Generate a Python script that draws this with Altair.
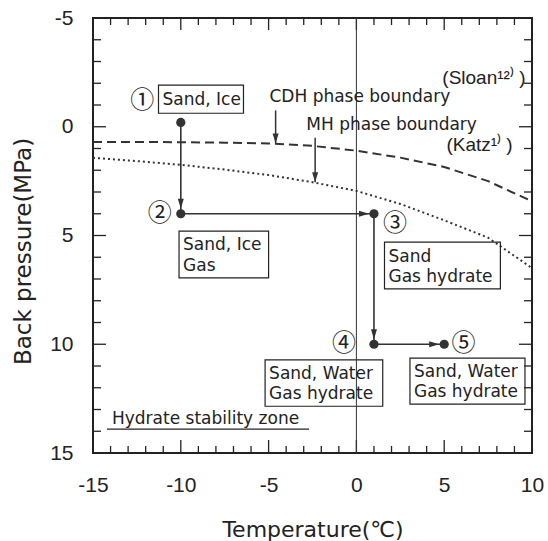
import altair as alt
import pandas as pd

# ---- phase boundary curves: temperature (°C) vs back pressure (MPa) ----
curve_temp = [-15, -12.5, -10, -7.5, -5, -2.5, 0, 2.5, 5, 7.5, 10]
cdh_pres = [0.70, 0.70, 0.71, 0.73, 0.77, 0.88, 1.10, 1.42, 1.85, 2.50, 3.43]
mh_pres = [1.43, 1.58, 1.75, 1.97, 2.22, 2.55, 2.95, 3.55, 4.30, 5.10, 6.50]

# ---- experimental path, states 1 to 5 ----
state_no = ["①", "②", "③", "④", "⑤"]
state_temp = [-10, -10, 1, 1, 5]
state_pres = [-0.2, 4, 4, 10, 10]
state_no_temp = [-12.2, -11.2, 2.2, -0.7, 6.1]
state_no_pres = [-1.2, 4.0, 4.45, 10.0, 10.0]

# arrow heads along the path (end of each step)
head_temp = [-10, 1, 1, 5]
head_pres = [4, 4, 10, 10]
head_dir = ["down", "right", "down", "right"]

# ---- content boxes for each state ----
box_left = [-11.27, -10.1, 1.6, -5.2, 3.05]
box_right = [-6.43, -5.0, 8.2, 1.5, 9.6]
box_top = [-1.91, 4.8, 5.3, 10.72, 10.64]
box_bottom = [-0.62, 6.95, 7.45, 12.85, 12.75]
box_text = ["Sand, Ice", "Sand, Ice", "Gas", "Sand", "Gas hydrate",
            "Sand, Water", "Gas hydrate", "Sand, Water", "Gas hydrate"]
box_text_temp = [-11.27, -10.1, -10.1, 1.6, 1.6, -5.2, -5.2, 3.05, 3.05]
box_text_pres = [-1.22, 5.45, 6.4, 5.97, 6.9, 11.35, 12.3, 11.27, 12.2]

# ---- curve annotations ----
note_text = ["CDH phase boundary", "MH phase boundary", "Hydrate stability zone"]
note_temp = [-4.95, -2.85, -13.92]
note_pres = [-1.35, -0.1, 13.43]
ref_text = ["(Sloan¹²⁾ )", "(Katz¹⁾ )"]
ref_temp = [9.63, 8.9]
ref_pres = [-2.25, 0.83]
pointer_temp = [-4.6, -2.35]
pointer_top = [-0.75, 0.5]
pointer_tip = [0.77, 2.55]
underline_temp = [-14.2, -2.7]
underline_pres = 13.9

# ---- axis ticks ----
x_labels = [-15, -10, -5, 0, 5, 10]
y_labels = [-5, 0, 5, 10, 15]
x_minor = [v for v in range(-14, 10) if v % 5 != 0]
x_major = [-10, -5, 0, 5]
y_minor = [v for v in range(-4, 15) if v % 5 != 0]
y_major = [0, 5, 10]

W, H = 439, 435
INK = "#222222"
TXT_FONT = "DejaVu Sans"
NUM_FONT = "Liberation Sans"

xs = alt.Scale(domain=[-15, 10], nice=False, zero=False)
ys = alt.Scale(domain=[-5, 15], nice=False, zero=False, reverse=True)

AX_X = alt.Axis(
    values=x_labels, ticks=False, tickSize=0, domain=False, grid=False,
    labelExpr="'' + datum.value", labelFlush=False, labelOverlap=False,
    labelFont=NUM_FONT, labelFontSize=21, labelColor=INK, labelPadding=21,
    title="Temperature(℃)", titleFont=TXT_FONT, titleFontSize=22,
    titleFontWeight="normal", titleColor=INK, titlePadding=24,
)
AX_Y = alt.Axis(
    values=y_labels, ticks=False, tickSize=0, domain=False, grid=False,
    labelExpr="'' + datum.value", labelFlush=False, labelOverlap=False,
    labelFont=NUM_FONT, labelFontSize=21, labelColor=INK, labelPadding=20,
    title="Back pressure(MPa)", titleFont=TXT_FONT, titleFontSize=23,
    titleFontWeight="normal", titleColor=INK, titleX=-70, titleY=233,
    titleBaseline="middle",
)


def X(field):
    return alt.X(field, scale=xs, axis=AX_X, title="Temperature(℃)")


def Y(field):
    return alt.Y(field, scale=ys, axis=AX_Y, title="Back pressure(MPa)")


curves = pd.DataFrame({
    "t": curve_temp * 2,
    "p": cdh_pres + mh_pres,
    "curve": ["CDH"] * len(curve_temp) + ["MH"] * len(curve_temp),
})

cdh = alt.Chart(curves).transform_filter(alt.datum.curve == "CDH").mark_line(
    color="#333333", strokeWidth=2, strokeDash=[9, 5]
).encode(x=X("t:Q"), y=Y("p:Q"))
mh = alt.Chart(curves).transform_filter(alt.datum.curve == "MH").mark_line(
    color="#333333", strokeWidth=2, strokeDash=[2, 3]
).encode(x=X("t:Q"), y=Y("p:Q"))

zero_line = alt.Chart(pd.DataFrame({"t": [0]})).mark_rule(
    color="#333333", strokeWidth=1
).encode(x=X("t:Q"))


def tick_layer(vals, orient, length):
    df = pd.DataFrame({"v": vals})
    ch = alt.Chart(df).mark_rule(color=INK, strokeWidth=1.3)
    if orient == "bottom":
        return ch.encode(x=X("v:Q"), y=alt.value(H), y2=alt.value(H - length))
    if orient == "top":
        return ch.encode(x=X("v:Q"), y=alt.value(0), y2=alt.value(length))
    if orient == "left":
        return ch.encode(y=Y("v:Q"), x=alt.value(0), x2=alt.value(length))
    return ch.encode(y=Y("v:Q"), x=alt.value(W), x2=alt.value(W - length))


ticks = [
    tick_layer(x_minor, "bottom", 7), tick_layer(x_major, "bottom", 13),
    tick_layer(x_minor, "top", 7), tick_layer(x_major, "top", 12),
    tick_layer(y_minor, "left", 8), tick_layer(y_major, "left", 13),
    tick_layer(y_minor, "right", 8), tick_layer(y_major, "right", 13),
]

states = pd.DataFrame({
    "t": state_temp, "p": state_pres, "order": list(range(5)),
    "no": state_no, "nt": state_no_temp, "np": state_no_pres,
})
path = alt.Chart(states).mark_line(color="#333333", strokeWidth=1.6).encode(
    x=X("t:Q"), y=Y("p:Q"), order="order:Q",
)
dots = alt.Chart(states).mark_circle(color="#333333", size=85, opacity=1).encode(
    x=X("t:Q"), y=Y("p:Q"),
)
state_labels = alt.Chart(states).mark_text(
    font="Noto Sans CJK JP", fontSize=24, color=INK, align="center", baseline="middle"
).encode(x=X("nt:Q"), y=Y("np:Q"), text="no:N")

ARROW_DOWN = "M0,1L-0.6,-1L0.6,-1Z"
ARROW_RIGHT = "M1,0L-1,-0.6L-1,0.6Z"

heads = pd.DataFrame({"t": head_temp, "p": head_pres, "dir": head_dir})
heads_down = alt.Chart(heads).transform_filter(alt.datum.dir == "down").mark_point(
    shape=ARROW_DOWN, size=100, filled=True, color="#333333", opacity=1, yOffset=-10
).encode(x=X("t:Q"), y=Y("p:Q"))
heads_right = alt.Chart(heads).transform_filter(alt.datum.dir == "right").mark_point(
    shape=ARROW_RIGHT, size=100, filled=True, color="#333333", opacity=1, xOffset=-10
).encode(x=X("t:Q"), y=Y("p:Q"))

pointers = pd.DataFrame({"t": pointer_temp, "p0": pointer_top, "p1": pointer_tip})
pointer_lines = alt.Chart(pointers).mark_rule(color="#333333", strokeWidth=1.5).encode(
    x=X("t:Q"), y=Y("p0:Q"), y2="p1:Q",
)
pointer_heads = alt.Chart(pointers).mark_point(
    shape=ARROW_DOWN, size=100, filled=True, color="#333333", opacity=1, yOffset=-5
).encode(x=X("t:Q"), y=Y("p1:Q"))

boxes = pd.DataFrame({"x0": box_left, "x1": box_right, "y0": box_top, "y1": box_bottom})
box_rects = alt.Chart(boxes).mark_rect(
    fillOpacity=0, stroke=INK, strokeWidth=1.2
).encode(x=X("x0:Q"), x2="x1:Q", y=Y("y0:Q"), y2="y1:Q")

box_texts = alt.Chart(pd.DataFrame({
    "t": box_text_temp, "p": box_text_pres, "s": box_text
})).mark_text(
    font=TXT_FONT, fontSize=17, color=INK, align="left", baseline="middle", dx=4
).encode(x=X("t:Q"), y=Y("p:Q"), text="s:N")

notes = alt.Chart(pd.DataFrame({
    "t": note_temp, "p": note_pres, "s": note_text
})).mark_text(
    font=TXT_FONT, fontSize=17, color=INK, align="left", baseline="middle"
).encode(x=X("t:Q"), y=Y("p:Q"), text="s:N")

refs = alt.Chart(pd.DataFrame({
    "t": ref_temp, "p": ref_pres, "s": ref_text
})).mark_text(
    font=NUM_FONT, fontSize=19, color=INK, align="right", baseline="middle"
).encode(x=X("t:Q"), y=Y("p:Q"), text="s:N")

underline = alt.Chart(pd.DataFrame({
    "t0": [underline_temp[0]], "t1": [underline_temp[1]], "p": [underline_pres]
})).mark_rule(color=INK, strokeWidth=1.3).encode(
    x=X("t0:Q"), x2="t1:Q", y=Y("p:Q"),
)

chart = alt.layer(
    cdh, mh, *ticks, box_rects, zero_line, path, heads_down, heads_right, dots,
    pointer_lines, pointer_heads, state_labels, box_texts, notes, refs, underline,
).properties(
    width=W, height=H,
    autosize=alt.AutoSizeParams(type="none"),
    padding={"left": 93, "top": 18, "right": 16, "bottom": 88},
    background="white",
).configure_view(stroke="#222222", strokeWidth=2)

chart.save("out.html", embed_options={"renderer": "svg", "actions": False})
